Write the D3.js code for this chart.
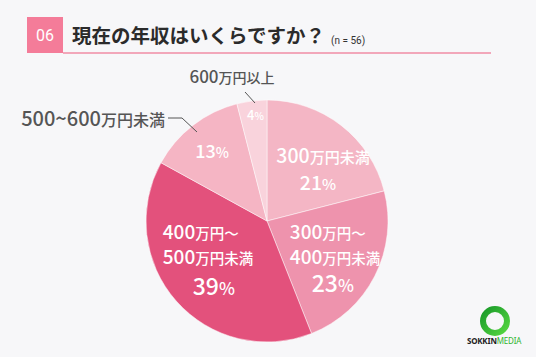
<!DOCTYPE html>
<html><head><meta charset="utf-8">
<script src="https://cdn.jsdelivr.net/npm/d3@7"></script>
<style>
html,body{margin:0;padding:0;background:#f7f7f9;}
svg{display:block;font-family:"Noto Sans CJK JP","Noto Sans",sans-serif;}
</style></head>
<body>
<svg id="c" width="536" height="357"></svg>
<script>
const categories = ["300万円未満","300万円～400万円未満","400万円～500万円未満","500~600万円未満","600万円以上"];
const values = [21, 23, 39, 13, 4];
const colors = ["#f4b6c5","#ee93ad","#e3517c","#f5b5c4","#f9d3dc"];
const titleNum = "06";
const titleText = "現在の年収はいくらですか？";
const sampleText = "(n = 56)";

const svg = d3.select("#c");
svg.append("rect").attr("width",536).attr("height",357).attr("fill","#f7f7f9");

// header
svg.append("rect").attr("x",27).attr("y",17).attr("width",36).attr("height",36).attr("fill","#f47c99");
svg.append("text").attr("x",45).attr("y",41).attr("text-anchor","middle").attr("fill","#fff")
  .attr("font-size",16).attr("font-family","Roboto, 'Noto Sans', sans-serif").text(titleNum);
svg.append("line").attr("x1",63).attr("x2",491).attr("y1",53).attr("y2",53).attr("stroke","#f08ca5").attr("stroke-width",1.5);
svg.append("text").attr("x",72).attr("y",43).attr("fill","#2b2b2b").attr("font-size",19.5).attr("font-weight",700).text(titleText);
svg.append("text").attr("x",331).attr("y",44).attr("fill","#333").attr("font-size",10).attr("font-family","Roboto, sans-serif").text(sampleText);

// pie
const cx = 267, cy = 221, R = 121;
const g = svg.append("g").attr("transform",`translate(${cx},${cy})`);
const pie = d3.pie().sort(null).value(d=>d);
const arcs = pie(values);
const arc = d3.arc().innerRadius(0).outerRadius(R);
g.selectAll("path").data(arcs).join("path").attr("d",arc)
  .attr("fill",(d,i)=>colors[i]).attr("stroke","rgba(255,255,255,0.6)").attr("stroke-width",0.8);

const labelArc = d3.arc().innerRadius(R*0.62).outerRadius(R*0.62);
function lines(sel, parts){
  parts.forEach(p=>sel.append("tspan").attr("font-size",p[1]).text(p[0]));
}
function addText(x,y,anchor,parts,fill,weight){
  const t = g.append("text").attr("x",x).attr("y",y).attr("text-anchor",anchor)
    .attr("fill",fill||"#fff").attr("font-weight",weight||500);
  lines(t,parts);
  return t;
}
// slice 0: 300万円未満 21%
{
  const [x,y] = labelArc.centroid(arcs[0]);
  addText(x+10,y+1,"middle",[["300",19.5],["万円未満",15]]);
  addText(x+5,y+28,"middle",[[String(values[0]),19.5],["%",15]]);
}
// slice 1
{
  const [x,y] = labelArc.centroid(arcs[1]);
  const lx = x - 44;
  addText(lx,y-16,"start",[["300",19],["万円～",14.5]]);
  addText(lx,y+9,"start",[["400",19],["万円未満",14.5]]);
  addText(x-1,y+37,"middle",[[String(values[1]),23],["%",17]]);
}
// slice 2
{
  const [x,y] = labelArc.centroid(arcs[2]);
  const lx = x - 48;
  addText(lx,y-32,"start",[["400",19],["万円～",14.5]]);
  addText(lx,y-7,"start",[["500",19],["万円未満",14.5]]);
  addText(x+3,y+24,"middle",[[String(values[2]),23],["%",17]]);
}
// slice 3: 13%
{
  const a = (arcs[3].startAngle+arcs[3].endAngle)/2;
  const r = R*0.78;
  const x = Math.sin(a)*r, y = -Math.cos(a)*r;
  addText(x+3,y+12,"middle",[[String(values[3]),18],["%",14]]);
  g.append("path").attr("d",d3.line()([[-70,-89],[-85,-103],[-99,-103]])).attr("fill","none").attr("stroke","#555").attr("stroke-width",1);
  addText(-102,-95,"end",[["500~600",20],["万円未満",16]],"#555",500);
}
// slice 4: 4%
{
  const a = (arcs[4].startAngle+arcs[4].endAngle)/2;
  const r = R*0.9;
  const x = Math.sin(a)*r, y = -Math.cos(a)*r;
  addText(x+2,y+7,"middle",[[String(values[4]),13],["%",10]]);
  g.append("path").attr("d",d3.line()([[-12,-118],[-22,-129]])).attr("fill","none").attr("stroke","#555").attr("stroke-width",1);
  addText(-35,-138,"middle",[["600",17],["万円以上",14]],"#555",500);
}

// logo
const lg = svg.append("g");
const grad = svg.append("defs").append("linearGradient").attr("id","lgG").attr("x1","0").attr("y1","0").attr("x2","1").attr("y2","1");
grad.append("stop").attr("offset","0").attr("stop-color","#1a9a2a");
grad.append("stop").attr("offset","1").attr("stop-color","#55d640");
lg.append("circle").attr("cx",495).attr("cy",321).attr("r",12).attr("fill","none").attr("stroke","url(#lgG)").attr("stroke-width",6);
const lt = lg.append("text").attr("x",494).attr("y",344).attr("text-anchor","middle").attr("font-size",8).attr("font-weight",700)
  .attr("font-family","'Noto Sans', sans-serif").attr("letter-spacing",-0.2);
lt.append("tspan").attr("fill","#222").text("SOKKIN");
lt.append("tspan").attr("fill","#2fb52f").attr("font-weight",400).text("MEDIA");
</script>
</body></html>
